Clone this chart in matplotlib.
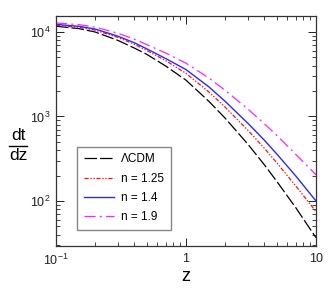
import matplotlib
matplotlib.use("Agg")
import matplotlib.pyplot as plt
from matplotlib.lines import Line2D
from matplotlib.ticker import LogLocator, NullFormatter

plt.rcParams['font.family'] = ['Liberation Sans', 'DejaVu Sans']
plt.rcParams['mathtext.default'] = 'regular'
plt.rcParams['lines.scale_dashes'] = False

z = [0.1, 0.15, 0.2, 0.3, 0.4, 0.5, 0.7, 1.0, 1.5, 2.0, 3.0, 4.0, 5.0, 7.0, 10.0]
lcdm   = [11700, 10960, 10000, 7940, 6460, 5430, 3940, 2690, 1510, 955, 468, 269, 170, 83, 36.7]
n125   = [12000, 11350, 10520, 8610, 7160, 6030, 4570, 3240, 1950, 1290, 684, 422, 282, 150, 75]
n14    = [12300, 11670, 10840, 8910, 7460, 6310, 4840, 3590, 2240, 1510, 828, 525, 359, 197, 100]
n19    = [12790, 12220, 11430, 9660, 8220, 7080, 5620, 4270, 2850, 2040, 1220, 822, 596, 355, 204]
labels = ['ΛCDM', 'n = 1.25', 'n = 1.4', 'n = 1.9']

fig = plt.figure(figsize=(3.31, 2.94), dpi=100)
ax = fig.add_axes([56/331, 48/294, 260/331, 230/294])

ax.plot(z, lcdm, color='black', lw=0.9, dashes=(9, 2.2), label=labels[0])
ax.plot(z, n125, color='#ff1010', lw=0.9, dashes=(3, 1.2, 1, 1.2, 1, 1.2), label=labels[1])
ax.plot(z, n14, color='#2a2aff', lw=1.0, label=labels[2])
ax.plot(z, n19, color='#ff22ff', lw=0.9, dashes=(8, 3, 1.5, 3), label=labels[3])

ax.set_xscale('log')
ax.set_yscale('log')
ax.set_xlim(0.1, 10)
ax.set_ylim(29.3, 15460)

ax.set_xticks([0.1, 1, 10])
ax.set_xticklabels(['$10^{-1}$', '1', '10'])
ax.yaxis.set_major_locator(LogLocator(base=10, numticks=10))
ax.yaxis.set_minor_locator(LogLocator(base=10, subs=range(2, 10), numticks=10))
ax.xaxis.set_minor_locator(LogLocator(base=10, subs=range(2, 10), numticks=10))
ax.xaxis.set_minor_formatter(NullFormatter())
ax.yaxis.set_minor_formatter(NullFormatter())

ax.tick_params(which='both', direction='in', top=True, right=True, labelsize=9, colors='#222222')
ax.tick_params(which='major', length=6, width=0.7)
ax.tick_params(which='minor', length=3, width=0.6)
ax.tick_params(axis='x', pad=5)
ax.tick_params(axis='y', pad=4)
for s in ax.spines.values():
    s.set_color('#333333')
    s.set_linewidth(0.9)

ax.set_xlabel('z', fontsize=13, labelpad=0)

fig.text(18/331, 1 - 135/294, 'dt', fontsize=12.5, ha='center', va='center')
fig.text(18/331, 1 - 155/294, 'dz', fontsize=12.5, ha='center', va='center')
fig.add_artist(Line2D([9/331, 27/331], [1 - 145.5/294, 1 - 145.5/294], color='black', lw=1.0))

leg = ax.legend(loc='lower left', bbox_to_anchor=(0.081, 0.07), borderaxespad=0, fontsize=8.5,
                handlelength=2.6, labelspacing=0.62, borderpad=0.55, handletextpad=0.6,
                fancybox=False, framealpha=1, edgecolor='#888888')
leg.get_frame().set_linewidth(1.0)

fig.savefig('out.png', dpi=100)
